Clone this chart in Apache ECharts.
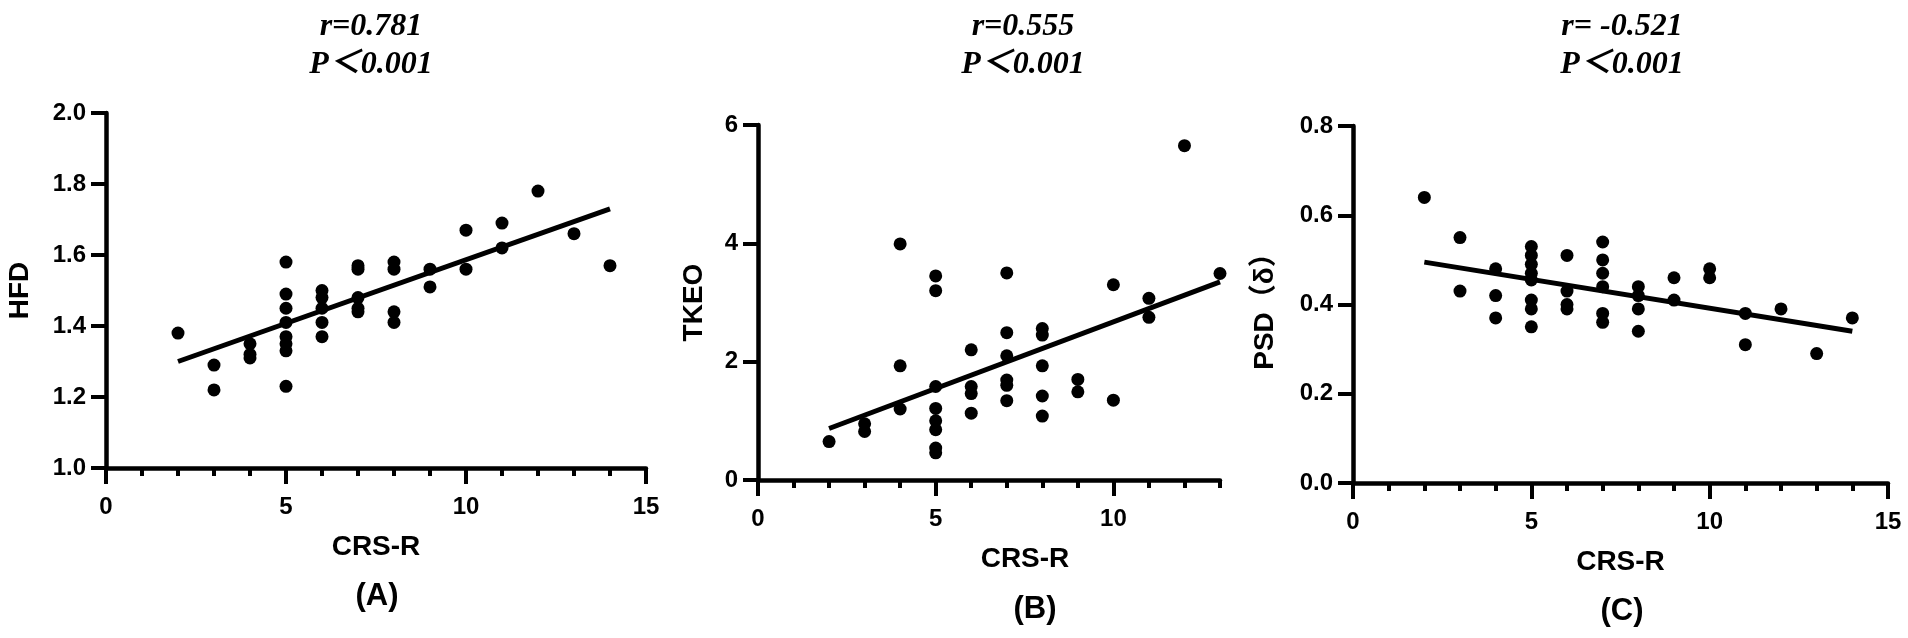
<!DOCTYPE html>
<html lang="en">
<head>
    <meta charset="UTF-8">
    <title>CRS-R correlations</title>
    <script src="https://cdn.jsdelivr.net/npm/echarts@6.0.0/dist/echarts.min.js"></script>
    <style>
        body {
            margin: 0;
            background-color: #fff;
        }
        #chart {
            width: 1908px;
            height: 638px;
        }
    </style>
</head>
<body>
    <div id="chart"></div>

    <script>
        // (A) HFD vs CRS-R
        const crsA = [2, 3, 3, 4, 4, 4, 5, 5, 5, 5, 5, 5, 5, 5, 6, 6, 6, 6, 6, 7, 7, 7, 7, 7, 8, 8, 8, 8, 9, 9, 10, 10, 11, 11, 12, 13, 14];
        const hfd  = [1.38, 1.29, 1.22, 1.35, 1.32, 1.31, 1.58, 1.49, 1.45, 1.41, 1.37, 1.35, 1.33, 1.23, 1.50, 1.48, 1.45, 1.41, 1.37,
                      1.57, 1.56, 1.48, 1.45, 1.44, 1.58, 1.56, 1.44, 1.41, 1.56, 1.51, 1.67, 1.56, 1.69, 1.62, 1.78, 1.66, 1.57];
        const fitA = [[2, 1.30], [14, 1.73]];

        // (B) TKEO vs CRS-R
        const crsB = [2, 3, 3, 4, 4, 4, 5, 5, 5, 5, 5, 5, 5, 5, 6, 6, 6, 6, 7, 7, 7, 7, 7, 7, 8, 8, 8, 8, 8, 9, 9, 10, 10, 11, 11, 12, 13];
        const tkeo = [0.65, 0.95, 0.82, 3.99, 1.93, 1.20, 3.45, 3.20, 1.58, 1.21, 1.00, 0.85, 0.54, 0.46, 2.20, 1.58, 1.46, 1.13,
                      3.50, 2.49, 2.10, 1.69, 1.60, 1.34, 2.56, 2.45, 1.93, 1.42, 1.08, 1.70, 1.49, 3.30, 1.35, 3.07, 2.75, 5.65, 3.49];
        const fitB = [[2, 0.87], [13, 3.35]];

        // (C) PSD(δ) vs CRS-R
        const crsC = [2, 3, 3, 4, 4, 4, 5, 5, 5, 5, 5, 5, 5, 5, 6, 6, 6, 6, 7, 7, 7, 7, 7, 7, 8, 8, 8, 8, 9, 9, 10, 10, 11, 11, 12, 13, 14];
        const psd  = [0.64, 0.55, 0.43, 0.48, 0.42, 0.37, 0.53, 0.51, 0.49, 0.47, 0.455, 0.41, 0.39, 0.35, 0.51, 0.43, 0.40, 0.39,
                      0.54, 0.50, 0.47, 0.44, 0.38, 0.36, 0.44, 0.42, 0.39, 0.34, 0.46, 0.41, 0.48, 0.46, 0.38, 0.31, 0.39, 0.29, 0.37];
        const fitC = [[2, 0.495], [14, 0.34]];

        const statTexts = ['r=0.781\nP＜0.001', 'r=0.555\nP＜0.001', 'r= -0.521\nP＜0.001'];
        const panelTags = ['(A)', '(B)', '(C)'];
        const yNames = ['HFD', 'TKEO', 'PSD（δ）'];
        const xName = 'CRS-R';

        // y 轴范围
        const yMin = [1.0, 0, 0.0];
        const yMax = [2.0, 6, 0.8];
        const yStep = [0.2, 2, 0.2];
        const yDecimals = [1, 0, 1];
        const xMax = [15, 13, 15];

        // 布局
        const grids = [
            { left: 106, top: 113, width: 540, height: 355 },
            { left: 758, top: 125, width: 462, height: 355 },
            { left: 1353, top: 126, width: 535, height: 357 }
        ];
        const titleCenters = [371, 1023, 1622];
        const tagCenters = [[377, 581], [1035, 594], [1622, 596]];
        const yNameGaps = [72, 50, 74];
        const xNameShift = [0, 36, 0];

        const black = '#000';
        const lineW = 4.5;
        const sansFont = '"Liberation Sans", Arial, sans-serif';
        const serifFont = '"Liberation Serif", "Times New Roman", "Noto Sans CJK SC", serif';

        const chart = echarts.init(document.getElementById('chart'));

        const xAxes = [];
        const yAxes = [];
        grids.forEach((g, i) => {
            const majors = [0, 5, 10, 15].filter(v => v <= xMax[i]);
            // 主轴：每 1 一个小刻度
            xAxes.push({
                type: 'value',
                gridIndex: i,
                position: 'bottom',
                min: 0,
                max: xMax[i],
                interval: 1,
                axisLine: { show: true, lineStyle: { color: black, width: lineW } },
                axisTick: { show: true, length: 8, lineStyle: { color: black, width: 4 } },
                axisLabel: {
                    margin: 27,
                    color: black,
                    fontSize: 24,
                    fontWeight: 'bold',
                    fontFamily: sansFont,
                    formatter: v => (v % 5 === 0 ? String(v) : '')
                },
                splitLine: { show: false },
                name: xName,
                nameLocation: 'middle',
                nameGap: 65,
                nameTextStyle: {
                    color: black,
                    fontSize: 28,
                    fontWeight: 'bold',
                    fontFamily: sansFont,
                    padding: [0, 0, 0, xNameShift[i] * 2]
                }
            });
            // 叠加轴：只画 0/5/10/15 的长刻度
            xAxes.push({
                type: 'value',
                gridIndex: i,
                position: 'bottom',
                offset: 0,
                min: 0,
                max: xMax[i],
                interval: 5,
                axisLine: { show: false },
                axisTick: { show: true, length: 16, customValues: majors, lineStyle: { color: black, width: 4 } },
                axisLabel: { show: false },
                splitLine: { show: false }
            });
            yAxes.push({
                type: 'value',
                gridIndex: i,
                min: yMin[i],
                max: yMax[i],
                interval: yStep[i],
                axisLine: { show: true, lineStyle: { color: black, width: lineW } },
                axisTick: { show: true, length: 15, lineStyle: { color: black, width: 4 } },
                axisLabel: {
                    margin: 20,
                    color: black,
                    fontSize: 24,
                    fontWeight: 'bold',
                    fontFamily: sansFont,
                    formatter: v => v.toFixed(yDecimals[i])
                },
                splitLine: { show: false },
                name: yNames[i],
                nameLocation: 'middle',
                nameGap: yNameGaps[i],
                nameTextStyle: {
                    color: black,
                    fontSize: 28,
                    fontWeight: 'bold',
                    fontFamily: sansFont + ', "Noto Sans CJK SC"'
                }
            });
        });

        const xsList = [crsA, crsB, crsC];
        const ysList = [hfd, tkeo, psd];
        const fits = [fitA, fitB, fitC];

        const series = [];
        xsList.forEach((xs, i) => {
            series.push({
                type: 'scatter',
                xAxisIndex: i * 2,
                yAxisIndex: i,
                symbol: 'circle',
                symbolSize: 13,
                itemStyle: { color: black, opacity: 1 },
                data: xs.map((x, k) => [x, ysList[i][k]])
            });
            series.push({
                type: 'line',
                xAxisIndex: i * 2,
                yAxisIndex: i,
                symbol: 'none',
                lineStyle: { color: black, width: 5 },
                data: fits[i]
            });
        });

        const titles = [];
        statTexts.forEach((t, i) => {
            titles.push({
                text: t,
                left: titleCenters[i],
                top: 8,
                textAlign: 'center',
                padding: 0,
                textStyle: {
                    color: black,
                    fontSize: 32,
                    fontStyle: 'italic',
                    fontWeight: 'bold',
                    fontFamily: serifFont,
                    lineHeight: 38
                }
            });
        });
        panelTags.forEach((t, i) => {
            titles.push({
                text: t,
                left: tagCenters[i][0],
                top: tagCenters[i][1],
                textAlign: 'center',
                padding: 0,
                textStyle: {
                    color: black,
                    fontSize: 31,
                    fontWeight: 'bold',
                    fontFamily: sansFont
                }
            });
        });

        chart.setOption({
            animation: false,
            backgroundColor: '#fff',
            title: titles,
            grid: grids,
            xAxis: xAxes,
            yAxis: yAxes,
            series: series
        });
    </script>
</body>
</html>
